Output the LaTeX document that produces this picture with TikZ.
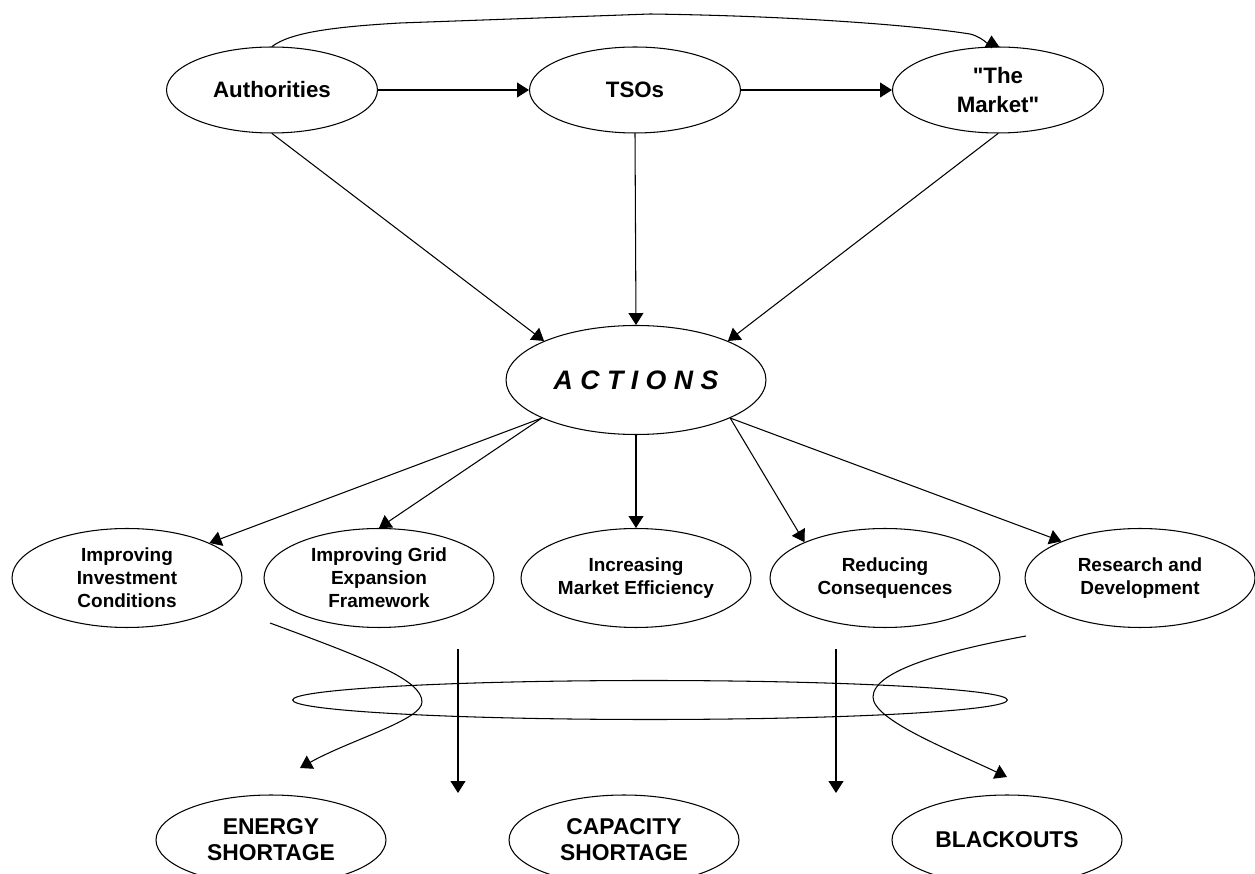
\documentclass[tikz,border=0pt]{standalone}
\usepackage{fontspec}
\setmainfont{Liberation Sans}
\usetikzlibrary{arrows.meta,shapes.geometric}

\begin{document}
\begin{tikzpicture}[x=0.02cm, y=-0.02cm,
      oval/.style={ellipse, draw, line width=0.6pt, inner sep=0pt, align=center},
      agent/.style={oval, minimum width=4.22cm, minimum height=1.72cm,
                    font=\fontsize{12.7}{17}\selectfont\bfseries},
      hub/.style={oval, minimum width=5.2cm, minimum height=2.18cm,
                  font=\fontsize{15.2}{18}\selectfont\bfseries\itshape},
      measure/.style={oval, minimum width=4.6cm, minimum height=1.98cm,
                      font=\fontsize{10.8}{13.2}\selectfont\bfseries},
      outcome/.style={oval, minimum width=4.6cm, minimum height=1.8cm,
                      font=\fontsize{13}{14.8}\selectfont\bfseries},
      arr/.style={-{Triangle[length=6.8pt,width=8.5pt]}, line width=0.6pt}
    ]
      \useasboundingbox (0,0) rectangle (1255,874);

      % Actors
      \node[agent] (auth) at (272,90) {Authorities};
      \node[agent] (tso) at (635,90) {TSOs};
      \node[agent] (mkt) at (998,90) {\textquotedbl The\\Market\textquotedbl};

      % Actions
      \node[hub] (act) at (636,380) {A C T I O N S};

      % Measures
      \node[measure] (inv) at (127,578) {Improving\\Investment\\Conditions};
      \node[measure] (grid) at (379,578) {Improving Grid\\Expansion\\Framework};
      \node[measure] (eff) at (636,578) {Increasing\\Market Efficiency};
      \node[measure] (cons) at (885,578) {Reducing\\Consequences};
      \node[measure] (rnd) at (1140,578) {Research and\\Development};

      % Ring
      \node[oval, minimum width=14.3cm, minimum height=0.78cm] (ring) at (650,700) {};

      % Outcomes
      \node[outcome] (energy) at (271,840) {ENERGY\\SHORTAGE};
      \node[outcome] (capacity) at (624,840) {CAPACITY\\SHORTAGE};
      \node[outcome] (blackout) at (1007,840) {BLACKOUTS};

      % Free ends
      \coordinate (ls) at (270,623);
      \coordinate (le) at (300,768);
      \coordinate (rs) at (1026,636);
      \coordinate (re) at (1007,777);
      \coordinate (v1s) at (458,649);
      \coordinate (v1e) at (458,793);
      \coordinate (v2s) at (836,649);
      \coordinate (v2e) at (836,793);

      % Edges
      \draw[arr] (auth) -- (tso);
      \draw[arr] (tso) -- (mkt);
      \draw[arr] (auth.north) .. controls (290,33) and (330,27) .. (400,23)
        -- (650,14) .. controls (800,16) and (920,26) .. (970,34)
        .. controls (986,38) and (992,50) .. ([xshift=-0.13cm,yshift=0.22cm]mkt.north);
      \draw[arr] (auth.south) -- (act.157);
      \draw[arr] (tso.south) -- (act.north);
      \draw[arr] (mkt.south) -- (act.23);
      \draw[arr] (act.202) -- (inv.23);
      \draw[arr] (act.202) -- (grid.north);
      \draw[arr] (act.south) -- (eff.north);
      \draw[arr] (act.338) -- (cons.156);
      \draw[arr] (act.338) -- (rnd.155);
      \draw[arr] (ls) .. controls (370,660) and (422,680) .. (422,702)
        .. controls (422,720) and (350,740) .. (le);
      \draw[arr] (rs) .. controls (950,650) and (873,670) .. (873,697)
        .. controls (873,720) and (950,750) .. (re);
      \draw[arr] (v1s) -- (v1e);
      \draw[arr] (v2s) -- (v2e);
    \end{tikzpicture}
\end{document}
